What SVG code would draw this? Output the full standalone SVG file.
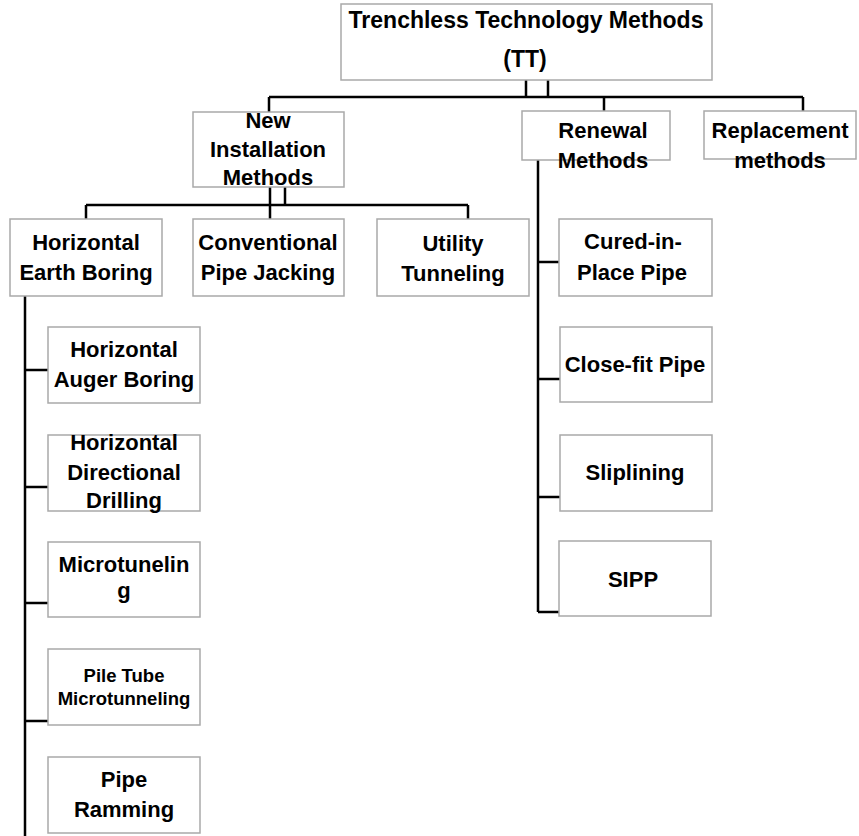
<svg xmlns="http://www.w3.org/2000/svg" width="859" height="836" viewBox="0 0 859 836">
<style>
.box{fill:#fff;stroke:#a9a9a9;stroke-width:1.5}
.t{font-family:"Liberation Sans",Arial,sans-serif;font-weight:bold;font-size:22px;fill:#000;text-anchor:middle}
.s{font-size:18.5px}
.h{font-size:23px}
.c{fill:none;stroke:#000;stroke-width:2.5}
</style>
<rect width="859" height="836" fill="#fff"/>
<g id="connectors">
<path class="c" d="M526,80V97M548,80V97M269,97H803M269,97V112M604,97V111M803,97V111"/>
<path class="c" d="M270,187V205M285,187V205M86,205H468M86,205V219M270,205V219M468,205V219"/>
<path class="c" d="M25,296V836M25,370H48M25,487H48M25,603H48M25,721H48"/>
<path class="c" d="M538,160V612M538,262H559M538,379H560M538,497H560M538,612H559"/>
</g>
<g id="tt"><rect class="box" x="341" y="4" width="371" height="76"/>
<text class="t h" x="526" y="28">Trenchless Technology Methods</text>
<text class="t h" x="525" y="67">(TT)</text></g>
<g id="new"><rect class="box" x="193" y="112" width="151" height="75"/>
<text class="t" x="268" y="128">New</text><text class="t" x="268" y="157">Installation</text><text class="t" x="268" y="185">Methods</text></g>
<g id="renewal"><rect class="box" x="522" y="111" width="148" height="49"/>
<text class="t" x="603" y="138">Renewal</text><text class="t" x="603" y="168">Methods</text></g>
<g id="replacement"><rect class="box" x="704" y="111" width="152" height="48"/>
<text class="t" x="780" y="138">Replacement</text><text class="t" x="780" y="168">methods</text></g>
<g id="heb"><rect class="box" x="10" y="219" width="152" height="77"/>
<text class="t" x="86" y="250">Horizontal</text><text class="t" x="86" y="280">Earth Boring</text></g>
<g id="cpj"><rect class="box" x="193" y="219" width="151" height="77"/>
<text class="t" x="268" y="250">Conventional</text><text class="t" x="268" y="280">Pipe Jacking</text></g>
<g id="ut"><rect class="box" x="377" y="219" width="152" height="77"/>
<text class="t" x="453" y="251">Utility</text><text class="t" x="453" y="281">Tunneling</text></g>
<g id="cipp"><rect class="box" x="559" y="219" width="153" height="77"/>
<text class="t" x="633" y="249">Cured-in-</text><text class="t" x="632" y="280">Place Pipe</text></g>
<g id="hab"><rect class="box" x="48" y="327" width="152" height="76"/>
<text class="t" x="124" y="357">Horizontal</text><text class="t" x="124" y="387">Auger Boring</text></g>
<g id="hdd"><rect class="box" x="48" y="435" width="152" height="76"/>
<text class="t" x="124" y="450">Horizontal</text><text class="t" x="124" y="480">Directional</text><text class="t" x="124" y="508">Drilling</text></g>
<g id="mt"><rect class="box" x="48" y="542" width="152" height="75"/>
<text class="t" x="124" y="572">Microtunelin</text><text class="t" x="124" y="598">g</text></g>
<g id="ptm"><rect class="box" x="48" y="649" width="152" height="76"/>
<text class="t s" x="124" y="682">Pile Tube</text><text class="t s" x="124" y="705">Microtunneling</text></g>
<g id="pr"><rect class="box" x="48" y="757" width="152" height="76"/>
<text class="t" x="124" y="787">Pipe</text><text class="t" x="124" y="817">Ramming</text></g>
<g id="cfp"><rect class="box" x="560" y="327" width="152" height="75"/>
<text class="t" x="635" y="372">Close-fit Pipe</text></g>
<g id="slip"><rect class="box" x="560" y="435" width="152" height="76"/>
<text class="t" x="635" y="480">Sliplining</text></g>
<g id="sipp"><rect class="box" x="559" y="541" width="152" height="75"/>
<text class="t" x="633" y="587">SIPP</text></g>
</svg>
